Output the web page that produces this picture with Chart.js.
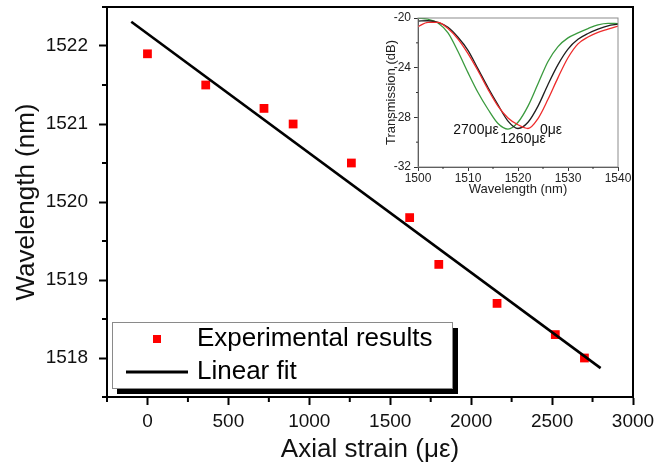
<!DOCTYPE html>
<html>
<head>
<meta charset="utf-8">
<title>Axial strain vs wavelength</title>
<script src="https://cdn.jsdelivr.net/npm/chart.js@4.4.1/dist/chart.umd.min.js"></script>
<style>
    body { margin: 0; background: #fff; }
    #wrap { position: relative; width: 659px; height: 465px; }
    #mainChart { position: absolute; left: 0; top: 0; }
    #insetChart { position: absolute; left: 370px; top: 8px; }
</style>
</head>
<body>
<div id="wrap">
    <canvas id="mainChart" width="659" height="465"></canvas>
    <canvas id="insetChart" width="264" height="196"></canvas>
</div>
<script>
// Measured dip wavelength for each applied strain
const strain = [0, 360, 720, 900, 1260, 1620, 1800, 2160, 2520, 2700];
const dipWavelength = [1521.9, 1521.5, 1521.2, 1521.0, 1520.5, 1519.8, 1519.2, 1518.7, 1518.3, 1518.0];

// Ends of the fitted line
const fitStrain = [-100, 2800];
const fitWavelength = [1522.31, 1517.87];

const strainTicks = [0, 500, 1000, 1500, 2000, 2500, 3000];
const wavelengthTicks = [1518, 1519, 1520, 1521, 1522];

// Transmission spectra for three strain levels
const spectrumWavelength = [1500, 1502, 1504, 1506, 1508, 1510, 1512, 1514, 1516, 1518, 1520,
    1522, 1524, 1526, 1528, 1530, 1532, 1534, 1536, 1538, 1540];
const spectrum0 = [-20.7, -20.35, -20.35, -20.85, -21.7, -22.87, -24.25, -25.75, -27.1, -28.05, -28.6,
    -28.9, -28.1, -26.55, -24.8, -23.2, -22.08, -21.53, -21.15, -20.9, -20.65];
const spectrum1260 = [-20.25, -20.22, -20.35, -20.75, -21.55, -22.6, -24.1, -25.6, -27.0, -28.3, -28.9,
    -28.4, -27.1, -25.35, -23.75, -22.5, -21.72, -21.25, -20.9, -20.63, -20.5];
const spectrum2700 = [-20.0, -20.1, -20.4, -21.2, -22.7, -24.4, -26.0, -27.35, -28.5, -28.95, -28.4,
    -27.1, -25.3, -23.5, -22.3, -21.6, -21.2, -20.85, -20.55, -20.43, -20.45];
const spectrumLabels = ["0με", "1260με", "2700με"];

const insetWlTicks = [1500, 1510, 1520, 1530, 1540];
const insetDbTicks = [-32, -28, -24, -20];

const FONT = "'Liberation Sans', Arial, sans-serif";
const NARROW = "'Liberation Sans Narrow', 'Arial Narrow', 'Liberation Sans', sans-serif";
Chart.defaults.font.family = FONT;
Chart.defaults.color = "#111";

function toPoints(xs, ys) {
    return xs.map((x, i) => ({ x: x, y: ys[i] }));
}

// fixed axis box size, no extra room for the end labels
function fixSize(prop, size) {
    return function (s) {
        s[prop] = size;
        s.paddingTop = 0;
        s.paddingBottom = 0;
        s.paddingLeft = 0;
        s.paddingRight = 0;
    };
}

// minor ticks halfway between the labelled ones
function minorTicks(major, min, max) {
    const step = major[1] - major[0];
    const out = [];
    for (let v = major[0] - step / 2; v <= max + 1e-9; v += step) {
        if (v >= min - 1e-9) out.push(v);
    }
    return out;
}

function drawMinor(ctx, scale, values, len, width) {
    const ca = scale.chart.chartArea;
    ctx.beginPath();
    values.forEach(v => {
        const p = scale.getPixelForValue(v);
        if (scale.isHorizontal()) {
            ctx.moveTo(p, ca.bottom);
            ctx.lineTo(p, ca.bottom + len);
        } else {
            ctx.moveTo(ca.left, p);
            ctx.lineTo(ca.left - len, p);
        }
    });
    ctx.lineWidth = width;
    ctx.stroke();
}

// box around the plot plus the short in-between ticks
const framePlugin = {
    id: "frame",
    afterDraw(chart, args, opts) {
        const ctx = chart.ctx;
        const ca = chart.chartArea;
        ctx.save();
        ctx.strokeStyle = opts.color;
        ctx.lineWidth = opts.width;
        ctx.strokeRect(ca.left, ca.top, ca.right - ca.left, ca.bottom - ca.top);
        ctx.strokeStyle = opts.tickColor;
        const xs = chart.scales.x, ys = chart.scales.y;
        drawMinor(ctx, xs, minorTicks(opts.xMajor, xs.min, xs.max), opts.minorLen, opts.width);
        drawMinor(ctx, ys, minorTicks(opts.yMajor, ys.min, ys.max), opts.minorLen, opts.width);
        ctx.restore();
    }
};

// legend panel with a drop shadow in the lower left corner
const legendBoxPlugin = {
    id: "legendBox",
    afterDraw(chart) {
        const ctx = chart.ctx;
        const ca = chart.chartArea;
        const left = ca.left + 5, top = ca.bottom - 75, w = 340, h = 66;
        const sets = chart.data.datasets;
        ctx.save();
        ctx.fillStyle = "#000";
        ctx.fillRect(left + 5, top + 6, w + 1, h);
        ctx.fillStyle = "#fff";
        ctx.fillRect(left, top, w, h);
        ctx.strokeStyle = "#8a8a8a";
        ctx.lineWidth = 1;
        ctx.strokeRect(left + 0.5, top + 0.5, w, h);

        ctx.font = "26px " + FONT;
        ctx.textBaseline = "middle";
        ctx.fillStyle = "#000";

        const row1 = top + 17, row2 = top + 50;
        ctx.fillStyle = sets[1].backgroundColor;
        ctx.fillRect(left + 41, row1 - 4, 8, 8);
        ctx.fillStyle = "#000";
        ctx.fillText(sets[1].label, left + 85, row1);

        ctx.beginPath();
        ctx.moveTo(left + 14, row2);
        ctx.lineTo(left + 76, row2);
        ctx.strokeStyle = sets[0].borderColor;
        ctx.lineWidth = 3;
        ctx.stroke();
        ctx.fillText(sets[0].label, left + 85, row2);
        ctx.restore();
    }
};

new Chart(document.getElementById("mainChart"), {
    type: "scatter",
    data: {
        datasets: [
            {
                label: "Linear fit",
                type: "line",
                data: toPoints(fitStrain, fitWavelength),
                borderColor: "#000",
                borderWidth: 2.6,
                pointRadius: 0,
                order: 0
            },
            {
                label: "Experimental results",
                data: toPoints(strain, dipWavelength),
                pointStyle: "rect",
                pointRadius: 6.2,
                borderWidth: 0,
                backgroundColor: "#ff0000",
                order: 1
            }
        ]
    },
    options: {
        responsive: false,
        animation: false,
        devicePixelRatio: 1,
        layout: { padding: { top: 7, right: 26, left: 0, bottom: 0 } },
        plugins: {
            legend: { display: false },
            tooltip: { enabled: false },
            frame: { color: "#000", tickColor: "#000", width: 2, minorLen: 5, xMajor: strainTicks, yMajor: wavelengthTicks }
        },
        scales: {
            x: {
                type: "linear",
                min: -250,
                max: 3000,
                afterBuildTicks: s => { s.ticks = strainTicks.map(v => ({ value: v })); },
                afterFit: fixSize("height", 68),
                grid: { drawOnChartArea: false, tickLength: 8, tickColor: "#000", tickWidth: 2 },
                border: { color: "#000", width: 2 },
                ticks: { font: { size: 19 }, color: "#111", padding: 5, maxRotation: 0, callback: v => String(v) },
                title: { display: true, text: "Axial strain (με)", font: { size: 26 }, color: "#111", padding: { top: 0, bottom: 0 } }
            },
            y: {
                min: 1517.5,
                max: 1522.5,
                afterBuildTicks: s => { s.ticks = wavelengthTicks.map(v => ({ value: v })); },
                afterFit: fixSize("width", 107),
                grid: { drawOnChartArea: false, tickLength: 8, tickColor: "#000", tickWidth: 2 },
                border: { color: "#000", width: 2 },
                ticks: { font: { size: 19 }, color: "#111", padding: 11, callback: v => String(v) },
                title: { display: true, text: "Wavelength (nm)", font: { size: 26 }, color: "#111", padding: { top: 11, bottom: 0 } }
            }
        }
    },
    plugins: [framePlugin, legendBoxPlugin]
});

// strain labels placed near the bottom of each dip
const dipLabelPlugin = {
    id: "dipLabels",
    afterDatasetsDraw(chart) {
        const ctx = chart.ctx;
        const xs = chart.scales.x, ys = chart.scales.y;
        const spots = [[1526.6, -29.03], [1521.0, -29.76], [1511.6, -29.07]];
        ctx.save();
        ctx.font = "14px " + FONT;
        ctx.fillStyle = "#111";
        ctx.textAlign = "center";
        ctx.textBaseline = "middle";
        spectrumLabels.forEach((t, i) => {
            ctx.fillText(t, xs.getPixelForValue(spots[i][0]), ys.getPixelForValue(spots[i][1]));
        });
        ctx.restore();
    }
};

function spectrumSet(label, values, color) {
    return {
        label: label,
        data: toPoints(spectrumWavelength, values),
        borderColor: color,
        borderWidth: 1.3,
        pointRadius: 0,
        cubicInterpolationMode: "monotone"
    };
}

new Chart(document.getElementById("insetChart"), {
    type: "line",
    data: {
        datasets: [
            spectrumSet(spectrumLabels[0], spectrum0, "#ee2b2b"),
            spectrumSet(spectrumLabels[1], spectrum1260, "#1e1e1e"),
            spectrumSet(spectrumLabels[2], spectrum2700, "#3a9a3e")
        ]
    },
    options: {
        responsive: false,
        animation: false,
        devicePixelRatio: 1,
        layout: { padding: { top: 10, right: 16, left: 0, bottom: 0 } },
        plugins: {
            legend: { display: false },
            tooltip: { enabled: false },
            frame: { color: "#8c8c8c", tickColor: "#333", width: 1, minorLen: 2, xMajor: insetWlTicks, yMajor: insetDbTicks }
        },
        scales: {
            x: {
                type: "linear",
                min: 1500,
                max: 1540,
                afterBuildTicks: s => { s.ticks = insetWlTicks.map(v => ({ value: v })); },
                afterFit: fixSize("height", 37),
                grid: { drawOnChartArea: false, tickLength: 4, tickColor: "#333", tickWidth: 1 },
                border: { color: "#333", width: 1 },
                ticks: { font: { size: 12, family: NARROW }, color: "#222", padding: 0, maxRotation: 0, callback: v => String(v) },
                title: { display: true, text: "Wavelength (nm)", font: { size: 13 }, color: "#222", padding: { top: 0, bottom: 7 } }
            },
            y: {
                min: -32,
                max: -20,
                afterBuildTicks: s => { s.ticks = insetDbTicks.map(v => ({ value: v })); },
                afterFit: fixSize("width", 48),
                grid: { drawOnChartArea: false, tickLength: 4, tickColor: "#333", tickWidth: 1 },
                border: { color: "#333", width: 1 },
                ticks: { font: { size: 12, family: NARROW }, color: "#222", padding: 3, callback: v => String(v) },
                title: { display: true, text: "Transmission (dB)", font: { size: 13 }, color: "#222", padding: { top: 14, bottom: 0 } }
            }
        }
    },
    plugins: [framePlugin, dipLabelPlugin]
});
</script>
</body>
</html>
